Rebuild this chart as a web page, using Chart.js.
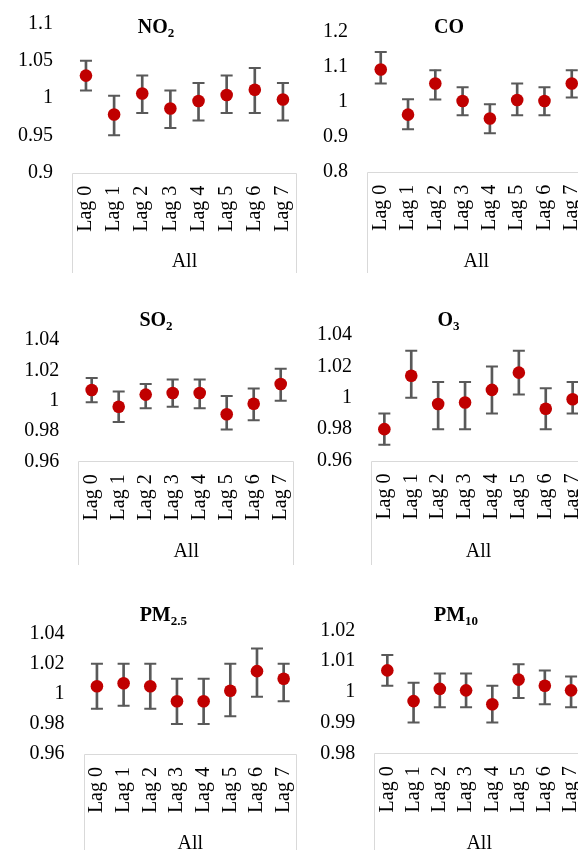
<!DOCTYPE html>
<html><head><meta charset="utf-8">
<script src="https://cdn.jsdelivr.net/npm/chart.js@4.4.1/dist/chart.umd.min.js"></script>
<style>
html,body{margin:0;padding:0;background:#fff;width:578px;height:850px;overflow:hidden;position:relative}
canvas{position:absolute}
</style></head><body>
<canvas id="c0"></canvas><canvas id="c1"></canvas><canvas id="c2"></canvas>
<canvas id="c3"></canvas><canvas id="c4"></canvas><canvas id="c5"></canvas>
<script>
// ---- data ----
const lags = ['Lag 0','Lag 1','Lag 2','Lag 3','Lag 4','Lag 5','Lag 6','Lag 7'];
const groupLabel = 'All';

const no2Est   = [1.030, 0.978, 1.006, 0.986, 0.996, 1.004, 1.011, 0.998];
const no2Lower = [1.010, 0.950, 0.980, 0.960, 0.970, 0.980, 0.980, 0.970];
const no2Upper = [1.050, 1.003, 1.030, 1.010, 1.020, 1.030, 1.040, 1.020];
const no2Ticks = [0.9, 0.95, 1, 1.05, 1.1];

const coEst   = [1.092, 0.963, 1.052, 1.002, 0.952, 1.005, 1.002, 1.052];
const coLower = [1.052, 0.921, 1.006, 0.961, 0.910, 0.961, 0.961, 1.012];
const coUpper = [1.142, 1.007, 1.090, 1.041, 0.993, 1.052, 1.041, 1.090];
const coTicks = [0.8, 0.9, 1, 1.1, 1.2];

const so2Est   = [1.007, 0.996, 1.004, 1.005, 1.005, 0.991, 0.998, 1.011];
const so2Lower = [0.999, 0.986, 0.995, 0.996, 0.995, 0.981, 0.987, 1.000];
const so2Upper = [1.015, 1.006, 1.011, 1.014, 1.014, 1.003, 1.008, 1.021];
const so2Ticks = [0.96, 0.98, 1, 1.02, 1.04];

const o3Est   = [0.980, 1.014, 0.996, 0.997, 1.005, 1.016, 0.993, 0.999];
const o3Lower = [0.970, 1.000, 0.980, 0.980, 0.990, 1.002, 0.980, 0.990];
const o3Upper = [0.990, 1.030, 1.010, 1.010, 1.020, 1.030, 1.006, 1.010];
const o3Ticks = [0.96, 0.98, 1, 1.02, 1.04];

const pm25Est   = [1.005, 1.007, 1.005, 0.995, 0.995, 1.002, 1.015, 1.010];
const pm25Lower = [0.990, 0.992, 0.990, 0.980, 0.980, 0.985, 0.998, 0.995];
const pm25Upper = [1.020, 1.020, 1.020, 1.010, 1.010, 1.020, 1.030, 1.020];
const pm25Ticks = [0.96, 0.98, 1, 1.02, 1.04];

const pm10Est   = [1.007, 0.997, 1.001, 1.0005, 0.996, 1.004, 1.002, 1.0005];
const pm10Lower = [1.002, 0.990, 0.995, 0.995, 0.990, 0.998, 0.996, 0.995];
const pm10Upper = [1.012, 1.003, 1.006, 1.006, 1.002, 1.009, 1.007, 1.005];
const pm10Ticks = [0.98, 0.99, 1, 1.01, 1.02];

const titleMain = ['NO', 'CO', 'SO', 'O', 'PM', 'PM'];
const titleSub  = ['2', '', '2', '3', '2.5', '10'];

// ---- layout (page pixels) ----
const layouts = [
  {cx:0,   cy:0,   cw:305, ch:273, pl:71.9,  pr:297.4, pt:23.3,  pb:172.7, tx:156,   ty:33.3,  allY:261.7},
  {cx:300, cy:0,   cw:296, ch:273, pl:367.1, pr:585.4, pt:31.7,  pb:171.7, tx:449,   ty:33.3,  allY:261.7},
  {cx:0,   cy:285, cw:305, ch:280, pl:78.2,  pr:294.2, pt:340,   pb:461.3, tx:156,   ty:326,   allY:551.7},
  {cx:300, cy:285, cw:296, ch:280, pl:370.9, pr:586.1, pt:335,   pb:460.5, tx:448.5, ty:326,   allY:551.7},
  {cx:0,   cy:580, cw:305, ch:280, pl:83.6,  pr:302.4, pt:633.5, pb:754,   tx:163.3, ty:620.7, allY:843.3},
  {cx:300, cy:580, cw:296, ch:280, pl:374.2, pr:584.2, pt:630.5, pb:753.3, tx:456,   ty:620.7, allY:843.3}
];

const series = [
  [no2Est, no2Lower, no2Upper, no2Ticks],
  [coEst, coLower, coUpper, coTicks],
  [so2Est, so2Lower, so2Upper, so2Ticks],
  [o3Est, o3Lower, o3Upper, o3Ticks],
  [pm25Est, pm25Lower, pm25Upper, pm25Ticks],
  [pm10Est, pm10Lower, pm10Upper, pm10Ticks]
];

const FONT = 'Liberation Serif';

const titlePlugin = {
  id: 'subTitle',
  afterDraw(chart, args, o) {
    const ctx = chart.ctx;
    ctx.save();
    ctx.fillStyle = '#000';
    ctx.textBaseline = 'alphabetic';
    ctx.textAlign = 'left';
    const mainFont = 'bold 20px "' + FONT + '"';
    const subFont = 'bold 13px "' + FONT + '"';
    ctx.font = mainFont; const w1 = ctx.measureText(o.main).width;
    ctx.font = subFont; const w2 = o.sub ? ctx.measureText(o.sub).width : 0;
    const x0 = o.x - (w1 + w2) / 2;
    ctx.font = mainFont; ctx.fillText(o.main, x0, o.y);
    if (o.sub) { ctx.font = subFont; ctx.fillText(o.sub, x0 + w1, o.y + 4); }
    ctx.restore();
  }
};

const boxPlugin = {
  id: 'catBox',
  beforeDatasetsDraw(chart) {
    const {ctx, chartArea} = chart;
    const l = Math.round(chartArea.left) + 0.5;
    const r = Math.round(chartArea.right) - 0.5;
    const b = Math.round(chartArea.bottom) + 0.5;
    ctx.save();
    ctx.strokeStyle = '#d9d9d9';
    ctx.lineWidth = 1;
    ctx.beginPath();
    ctx.moveTo(l, chart.height); ctx.lineTo(l, b); ctx.lineTo(r, b); ctx.lineTo(r, chart.height);
    ctx.stroke();
    ctx.restore();
  }
};

function fmt(v) { return String(Number(Number(v).toFixed(3))); }

series.forEach((s, i) => {
  const [est, lower, upper, ticks] = s;
  const L = layouts[i];
  const cv = document.getElementById('c' + i);
  cv.width = L.cw; cv.height = L.ch;
  cv.style.left = L.cx + 'px'; cv.style.top = L.cy + 'px';
  const yW = L.pl - L.cx;
  const padTop = L.pt - L.cy;
  const padRight = L.cx + L.cw - L.pr;
  const xH = L.cy + L.ch - L.pb;
  const allPad = (L.cy + L.ch) - L.allY - 10;
  new Chart(cv, {
    type: 'bar',
    data: {
      labels: lags,
      datasets: [
        {type: 'line', data: est, showLine: false, pointStyle: 'circle', pointRadius: 6.3, pointHoverRadius: 6.3,
         pointBackgroundColor: '#c00000', pointBorderColor: '#c00000', pointBorderWidth: 0, order: 0},
        {type: 'line', data: upper, showLine: false, pointStyle: 'line', pointRadius: 6, pointHoverRadius: 6,
         pointBorderColor: '#595959', pointBorderWidth: 2, order: 1},
        {type: 'line', data: lower, showLine: false, pointStyle: 'line', pointRadius: 6, pointHoverRadius: 6,
         pointBorderColor: '#595959', pointBorderWidth: 2, order: 1},
        {type: 'bar', data: lower.map((v, k) => [v, upper[k]]), backgroundColor: '#595959', barThickness: 2, order: 2}
      ]
    },
    options: {
      responsive: false, animation: false, devicePixelRatio: 1,
      layout: {padding: {left: 0, top: padTop, right: padRight, bottom: 0}},
      plugins: {
        legend: {display: false}, tooltip: {enabled: false}, title: {display: false},
        subTitle: {main: titleMain[i], sub: titleSub[i], x: L.tx - L.cx, y: L.ty - L.cy}
      },
      scales: {
        x: {
          grid: {display: false, drawTicks: false}, border: {display: false},
          ticks: {minRotation: 90, maxRotation: 90, autoSkip: false, padding: 13, color: '#000',
                  font: {family: FONT, size: 20}},
          title: {display: true, text: groupLabel, color: '#000', font: {family: FONT, size: 20, lineHeight: 1},
                  padding: {top: 0, bottom: allPad}},
          afterFit(sc) { sc.height = xH; sc.paddingLeft = 0; sc.paddingRight = 0; }
        },
        y: {
          min: ticks[0], max: ticks[ticks.length - 1],
          grid: {display: false, drawTicks: false}, border: {display: false},
          afterBuildTicks(sc) { sc.ticks = ticks.map(v => ({value: v})); },
          ticks: {padding: 19, color: '#000', font: {family: FONT, size: 20}, callback: (v) => fmt(v)},
          afterFit(sc) { sc.width = yW; sc.paddingTop = 0; sc.paddingBottom = 0; }
        }
      }
    },
    plugins: [titlePlugin, boxPlugin]
  });
});
</script>
</body></html>
